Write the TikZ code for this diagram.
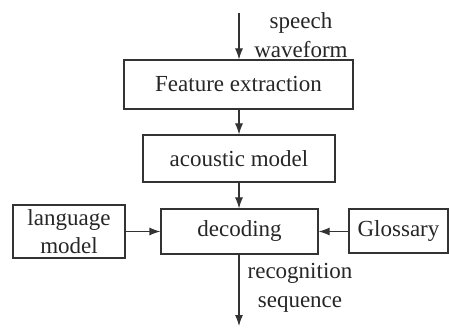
\documentclass[tikz,border=0pt]{standalone}
\usepackage{fontspec}
\setmainfont{Liberation Serif}
\usetikzlibrary{arrows.meta}
\begin{document}
\begin{tikzpicture}[x=1pt,y=-1pt,
  box/.style={draw=black!80,line width=1.1pt,inner sep=0pt,align=center,
    text=black!85,font=\fontsize{23}{28}\selectfont},
  lbl/.style={inner sep=0pt,align=center,text=black!85,font=\fontsize{23}{29}\selectfont},
  arr/.style={draw=black!80,line width=1.1pt,-{Latex[length=11pt,width=8pt]}}]
\useasboundingbox (0,0) rectangle (449,328);
\node[box,minimum width=229pt,minimum height=49pt] (fe) at (238.5,84.5) {Feature extraction};
\node[box,minimum width=192pt,minimum height=47pt] (am) at (239,158.5) {acoustic model};
\node[box,minimum width=157pt,minimum height=45pt] (dec) at (239.5,231.5) {decoding};
\node[box,minimum width=112pt,minimum height=53pt] (lm) at (69,231.5) {language\\model};
\node[box,minimum width=99pt,minimum height=44pt] (gl) at (398.5,231) {Glossary};
\coordinate (top) at (239,13);
\coordinate (bot) at (239,326);
\node[lbl] (sw) at (301,35) {speech\\waveform};
\node[lbl] (rs) at (300,288) {recognition\\sequence};
\draw[arr] (top) -- (fe.north -| top);
\draw[arr] (fe.south -| top) -- (am.north -| top);
\draw[arr] (am.south -| top) -- (dec.north -| top);
\draw[arr] (lm.east |- dec) -- (dec.west);
\draw[arr] (gl.west |- dec) -- (dec.east);
\draw[arr] (dec.south -| bot) -- (bot);
\end{tikzpicture}
\end{document}
